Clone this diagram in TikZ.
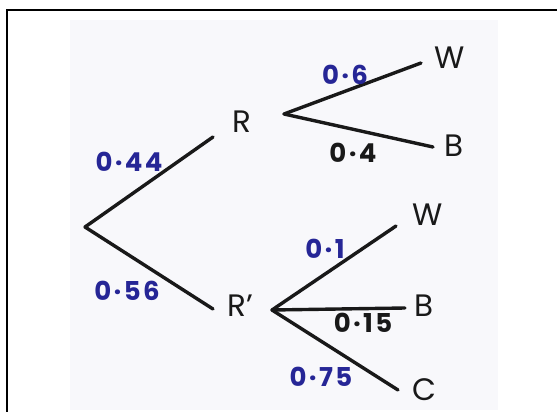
\documentclass[tikz,border=0pt]{standalone}
\usepackage{fontspec}
\setmainfont{Poppins}
\definecolor{ink}{RGB}{25,25,25}
\definecolor{pen}{RGB}{38,38,150}
\definecolor{paper}{RGB}{248,248,251}
\begin{document}
\begin{tikzpicture}[x=1pt,y=-1pt,
  branch/.style={draw=ink,line width=3.4pt,line cap=round},
  outcome/.style={text=ink,font=\fontsize{31}{31}\selectfont,inner sep=0pt},
  probb/.style={text=pen,font=\fontsize{26}{26}\selectfont\bfseries\addfontfeature{LetterSpace=9},inner sep=0pt},
  probk/.style={text=ink,font=\fontsize{26}{26}\selectfont\bfseries\addfontfeature{LetterSpace=9},inner sep=0pt}]
\useasboundingbox (0,0) rectangle (557,412);
\fill[white] (0,0) rectangle (557,412);
\fill[paper] (70,20) rectangle (498,410);
\draw[black,line width=2.2pt] (7,412) -- (7,10) -- (557,10);
% points
\coordinate (root) at (85,227);
\coordinate (r1) at (213,137);
\coordinate (r2) at (213,309);
\coordinate (p) at (284,114);
\coordinate (pw) at (421,63);
\coordinate (pb) at (433,147);
\coordinate (q) at (272,310);
\coordinate (qw) at (396,226);
\coordinate (qb) at (405,308);
\coordinate (qc) at (398,390);
% branches
\draw[branch] (root) -- (r1);
\draw[branch] (root) -- (r2);
\draw[branch] (p) -- (pw);
\draw[branch] (p) -- (pb);
\draw[branch] (q) -- (qw);
\draw[branch] (q) -- (qb);
\draw[branch] (q) -- (qc);
% outcomes
\node[outcome] (R) at (242,122) {R};
\node[outcome] (Rp) at (240,306) {R'};
\node[outcome] (W1) at (450,58) {W};
\node[outcome] (B1) at (454,146) {B};
\node[outcome] (W2) at (428,215) {W};
\node[outcome] (B2) at (424,306) {B};
\node[outcome] (C) at (424,390) {C};
% probabilities
\node[probb] (a) at (129,162) {0·44};
\node[probb] (b) at (127,291) {0·56};
\node[probb] (c) at (345,75) {0·6};
\node[probk] (d) at (353,153) {0·4};
\node[probb] (e) at (325,249) {0·1};
\node[probk] (f) at (363,323) {0·15};
\node[probb] (g) at (321,377) {0·75};
\end{tikzpicture}
\end{document}
